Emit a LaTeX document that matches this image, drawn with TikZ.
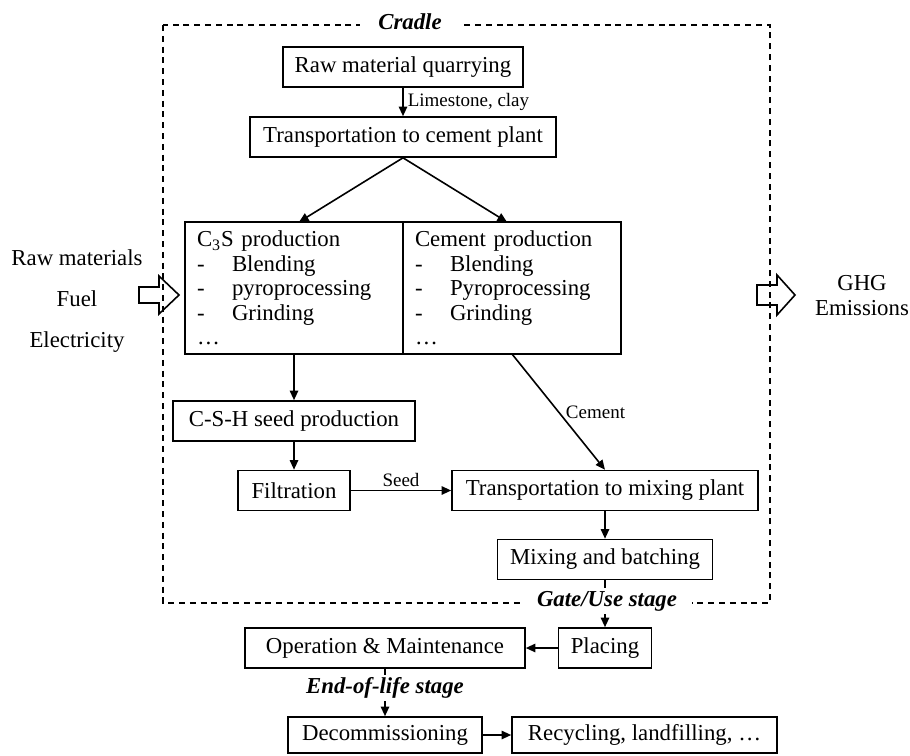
\documentclass[tikz,border=0pt]{standalone}
\usepackage{fontspec}
\setmainfont{Liberation Serif}
\usetikzlibrary{arrows.meta, positioning}

\newcommand{\dashitem}[1]{\makebox[17.5pt][l]{-}#1}

\begin{document}
\begin{tikzpicture}[x=0.5pt, y=-0.5pt,
  every node/.style={font=\fontsize{11.4}{13.7}\selectfont},
  procbox/.style={draw, line width=0.8pt, minimum height=20pt, inner sep=2pt},
  splitbox/.style={draw, line width=0.8pt, minimum height=66pt, inner xsep=6pt,
      outer sep=0pt, text width=97pt, align=left,
      font=\fontsize{11.4}{12.25}\selectfont},
  flow/.style={-{Triangle[length=4.8pt, width=4.2pt]}, line width=0.8pt},
  flowlabel/.style={font=\fontsize{9.5}{11}\selectfont},
  stagelabel/.style={font=\fontsize{11.4}{13.7}\selectfont\bfseries\itshape,
      fill=white, inner xsep=7.5pt, inner ysep=1.5pt},
  openarrow/.style={draw, line width=0.8pt, line join=miter}]

\useasboundingbox (0,0) rectangle (910,755);

% --- Cradle ---
\draw[line width=0.7pt, dash pattern=on 3pt off 2.4pt] (163,25) rectangle (770,603);
\node[stagelabel, inner xsep=9pt] (cradle) at (410,22) {Cradle};

\node[procbox, minimum width=120pt] (quarry) at (403,67) {Raw material quarrying};
\node[procbox, minimum width=153pt] (transcement) at (403,137) {Transportation to cement plant};
\draw[flow] (quarry.south) -- node[flowlabel, right, inner sep=2pt] {Limestone, clay} (transcement.north);

% Split production box
\node[splitbox] (csprod) at (294,288)
     {C\textsubscript{3}S production\\
      \dashitem{Blending}\\
      \dashitem{pyroprocessing}\\
      \dashitem{Grinding}\\
      …};
\node[splitbox, right=0pt of csprod] (cemprod)
     {Cement production\\
      \dashitem{Blending}\\
      \dashitem{Pyroprocessing}\\
      \dashitem{Grinding}\\
      …};
\draw[flow] (transcement.south) -- ([xshift=2.5pt]csprod.north);
\draw[flow] (transcement.south) -- ([xshift=-2.5pt]cemprod.north);

% C-S-H seed route
\node[procbox, minimum width=121pt] (cshseed) at (294,421) {C-S-H seed production};
\node[procbox, minimum width=56pt] (filtration) at (294,490.5) {Filtration};
\draw[flow] (csprod.south) -- (cshseed.north);
\draw[flow] (cshseed.south) -- (filtration.north);

% Cement route
\node[procbox, minimum width=153pt] (transmix) at (605,490.5) {Transportation to mixing plant};
\node[procbox, minimum width=107.5pt] (mixing) at (605,559.5) {Mixing and batching};
\draw[flow] (filtration.east) -- node[flowlabel, above, inner sep=1.5pt] {Seed} (transmix.west);
\draw[flow] (cemprod.south) -- node[flowlabel, right] {Cement} (transmix.north);
\draw[flow] (transmix.south) -- (mixing.north);

% --- Gate/Use stage ---
\node[procbox, minimum width=46.5pt] (placing) at (605,648) {Placing};
\node[procbox, minimum width=140pt] (operation) at (385,648) {Operation \& Maintenance};
\draw[flow] (mixing.south) -- (placing.north);
\node[stagelabel] (gateuse) at (607,601) {Gate/Use stage};
\draw[flow] (placing.west) -- (operation.east);

% --- End-of-life stage ---
\node[procbox, minimum width=97pt, minimum height=18pt] (decom) at (385,735) {Decommissioning};
\node[procbox, minimum width=132.5pt, minimum height=18pt] (recycling) at (644.5,735) {Recycling, landfilling, …};
\draw[flow] (operation.south) -- (decom.north);
\node[stagelabel] (endlife) at (385,688) {End-of-life stage};
\draw[flow] (decom.east) -- (recycling.west);

% --- Inputs and outputs ---
\node[align=center, font=\fontsize{11.4}{20.5}\selectfont] (inputs) at (77,301)
     {Raw materials\\Fuel\\Electricity};
\node[align=center, font=\fontsize{11.4}{12.5}\selectfont] (ghg) at (862,296)
     {GHG\\Emissions};
\draw[openarrow] (139,287) -- (159,287) -- (159,276) -- (179,295) -- (159,314)
                 -- (159,303) -- (139,303) -- cycle;
\draw[openarrow] (757,285) -- (777,285) -- (777,275) -- (795,295) -- (777,315)
                 -- (777,305) -- (757,305) -- cycle;

\end{tikzpicture}
\end{document}
